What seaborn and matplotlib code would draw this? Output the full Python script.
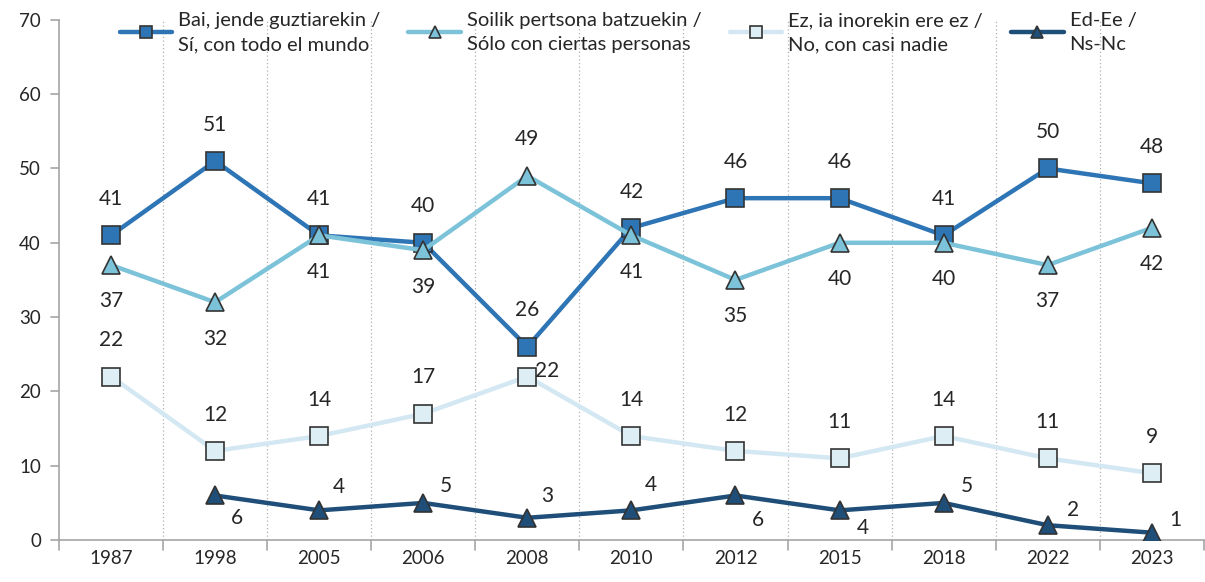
import numpy as np
import pandas as pd
import matplotlib
matplotlib.use("Agg")
import matplotlib.pyplot as plt
import seaborn as sns

years = ["1987", "1998", "2005", "2006", "2008", "2010", "2012", "2015", "2018", "2022", "2023"]
bai = [41, 51, 41, 40, 26, 42, 46, 46, 41, 50, 48]
soilik = [37, 32, 41, 39, 49, 41, 35, 40, 40, 37, 42]
ez = [22, 12, 14, 17, 22, 14, 12, 11, 14, 11, 9]
ed = [np.nan, 6, 4, 5, 3, 4, 6, 4, 5, 2, 1]

names = ["Bai, jende guztiarekin /\nSí, con todo el mundo",
         "Soilik pertsona batzuekin /\nSólo con ciertas personas",
         "Ez, ia inorekin ere ez /\nNo, con casi nadie",
         "Ed-Ee /\nNs-Nc"]

sns.set_style("white")
plt.rcParams['font.family'] = ['Lato', 'DejaVu Sans']

fig = plt.figure(figsize=(12.05, 5.82), dpi=100)
ax = fig.add_axes([0.049, 0.072, 0.950, 0.894])

xs = np.arange(len(years))
series = [
    (bai, names[0], "#2E75B6", "#2E75B6", "s"),
    (soilik, names[1], "#7CC3D9", "#7CC3D9", "^"),
    (ez, names[2], "#D3E8F2", "#DDEEF5", "s"),
    (ed, names[3], "#1F4E79", "#1F4E79", "^"),
]
for vals, name, lc, mc, mk in series:
    df = pd.DataFrame({"x": xs, "y": vals})
    sns.lineplot(data=df, x="x", y="y", ax=ax, color=lc, linewidth=3.2, label=name,
                 marker=mk, markersize=13, markerfacecolor=mc, markeredgecolor="#333333",
                 markeredgewidth=1.2, zorder=3)

fs = 15
tc = "#262626"
# Bai labels: above
for i, v in enumerate(bai):
    ax.annotate(str(v), (i, v), xytext=(0, 19), textcoords="offset points",
                ha="center", va="bottom", fontsize=fs, color=tc)
# Soilik labels: below except 2008 above
for i, v in enumerate(soilik):
    if years[i] == "2008":
        ax.annotate(str(v), (i, v), xytext=(0, 19), textcoords="offset points",
                    ha="center", va="bottom", fontsize=fs, color=tc)
    else:
        ax.annotate(str(v), (i, v), xytext=(0, -19), textcoords="offset points",
                    ha="center", va="top", fontsize=fs, color=tc)
# Ez labels: above (2008 to the right)
for i, v in enumerate(ez):
    if years[i] == "2008":
        ax.annotate(str(v), (i, v), xytext=(14, 4), textcoords="offset points",
                    ha="center", va="center", fontsize=fs, color=tc)
    else:
        ax.annotate(str(v), (i, v), xytext=(0, 19), textcoords="offset points",
                    ha="center", va="bottom", fontsize=fs, color=tc)
# Ed labels: to the right, above or below
ed_off = {"1998": (16, -16), "2005": (14, 17), "2006": (16, 12), "2008": (14, 16), "2010": (14, 18),
          "2012": (16, -18), "2015": (17, -13), "2018": (17, 12), "2022": (18, 11), "2023": (17, 9)}
for i, v in enumerate(ed):
    if np.isnan(v):
        continue
    dx, dy = ed_off[years[i]]
    ax.annotate(str(int(v)), (i, v), xytext=(dx, dy), textcoords="offset points",
                ha="center", va="center", fontsize=fs, color=tc)

ax.set_xlim(-0.5, len(years) - 0.5)
ax.set_ylim(0, 70)
ax.set_yticks(range(0, 71, 10))
ax.set_xticks(xs)
ax.set_xticklabels(years)
ax.set_xlabel("")
ax.set_ylabel("")
ax.tick_params(axis="both", labelsize=13.5, colors=tc, length=0, pad=7)
ax.tick_params(axis="y", pad=13)

for b in np.arange(0.5, len(years) - 0.5, 1):
    ax.axvline(b, color="#B0B0B0", linestyle=(0, (1, 2)), linewidth=0.9, zorder=1)
# boundary tick marks on x-axis
for b in np.arange(-0.5, len(years), 1):
    ax.plot([b, b], [0, -1.3], color="#A6A6A6", linewidth=1.2, clip_on=False)
# y tick marks on the left
for t in range(0, 71, 10):
    ax.plot([-0.5, -0.58], [t, t], color="#A6A6A6", linewidth=1.2, clip_on=False)

for s in ["top", "right"]:
    ax.spines[s].set_visible(False)
for s in ["left", "bottom"]:
    ax.spines[s].set_color("#A6A6A6")
    ax.spines[s].set_linewidth(1.2)

leg = ax.legend(loc="upper center", bbox_to_anchor=(0.497, 1.05), ncol=4, frameon=False,
                fontsize=14.5, handlelength=2.6, columnspacing=1.4, handletextpad=0.3,
                labelcolor=tc)
for t in leg.get_texts():
    t.set_linespacing(1.5)
for h in leg.legend_handles:
    h.set_markersize(9)

fig.savefig("out.png", dpi=100)
